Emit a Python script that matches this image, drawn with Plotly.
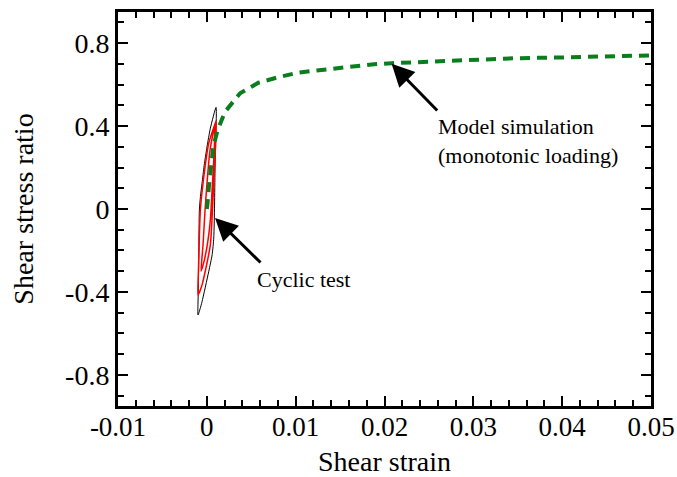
import plotly.graph_objects as go

# Model simulation (monotonic loading)
model_strain = [0.0, 0.00006, 0.00025, 0.00047, 0.00073, 0.00122, 0.00205, 0.00374, 0.0058, 0.0080,
                0.0102, 0.0122, 0.0143, 0.0165, 0.0188, 0.0208, 0.0233, 0.0290, 0.0346, 0.0402, 0.0459, 0.0500]
model_ratio = [0.0, 0.019, 0.116, 0.203, 0.300, 0.381, 0.469, 0.558, 0.609, 0.635,
               0.657, 0.667, 0.678, 0.690, 0.698, 0.703, 0.707, 0.718, 0.727, 0.731, 0.738, 0.741]

# Cyclic test - black loop
black_strain = [0.00104, 0.00040, 0.00002, -0.00030, -0.00054, -0.00072, -0.00084, -0.0009, -0.00094, -0.00096, -0.00099,
                -0.00075, -0.00054, 0.00021, 0.00060, 0.00078, 0.00087, 0.00092, 0.00100, 0.00104]
black_ratio = [0.490, 0.390, 0.300, 0.210, 0.124, 0.060, -0.005, -0.198, -0.300, -0.391, -0.511,
               -0.480, -0.447, -0.302, -0.220, -0.140, 0.019, 0.188, 0.333, 0.490]

# Cyclic test - red loops
red_strain = [0.00104, 0.00060, 0.00021, -0.00043, -0.00073, -0.00088, -0.00095, -0.00099,
              -0.00054, 0.00039, 0.00066, 0.00078, 0.00096, 0.00104,
              0.00092, 0.00036, 0.00002, -0.00020, -0.00043, -0.00065,
              -0.00030, 0.00010, 0.00040, 0.00059, 0.00081, 0.00092]
red_ratio = [0.424, 0.370, 0.317, 0.124, -0.005, -0.198, -0.310, -0.415,
             -0.366, -0.174, 0.019, 0.124, 0.284, 0.424,
             0.405, 0.284, 0.125, -0.005, -0.174, -0.300,
             -0.250, -0.160, -0.050, 0.092, 0.260, 0.405]

x_tickvals = [-0.01, 0, 0.01, 0.02, 0.03, 0.04, 0.05]
x_ticktext = ["-0.01", "0", "0.01", "0.02", "0.03", "0.04", "0.05"]
y_tickvals = [-0.8, -0.4, 0, 0.4, 0.8]
y_ticktext = ["-0.8", "-0.4", "0", "0.4", "0.8"]

FONT = "Liberation Serif"

fig = go.Figure()
fig.add_trace(go.Scatter(x=black_strain, y=black_ratio, mode="lines",
                         line=dict(color="black", width=1, shape="spline", smoothing=0.6), showlegend=False))
fig.add_trace(go.Scatter(x=red_strain, y=red_ratio, mode="lines",
                         line=dict(color="red", width=1.5, shape="spline", smoothing=0.6), showlegend=False))
fig.add_trace(go.Scatter(x=model_strain, y=model_ratio, mode="lines",
                         line=dict(color="#0a7d1c", width=4, dash="10px,7px"), showlegend=False))

axis_common = dict(
    showgrid=False, zeroline=False, showline=True, linecolor="black", linewidth=3,
    mirror="allticks", ticks="inside", ticklen=10, tickwidth=2, tickcolor="black",
    automargin=False,
)

fig.update_xaxes(range=[-0.0100001, 0.0500001], tickvals=x_tickvals, ticktext=x_ticktext,
                 tickfont=dict(family=FONT, size=27, color="black"), ticklabelstandoff=-5,
                 minor=dict(dtick=0.002, tick0=0, ticks="inside", ticklen=6, tickwidth=2, tickcolor="black"),
                 title=dict(text="Shear strain", font=dict(family=FONT, size=28, color="black"), standoff=12),
                 **axis_common)
fig.update_yaxes(range=[-0.95, 0.95], tickvals=y_tickvals, ticktext=y_ticktext,
                 tickfont=dict(family=FONT, size=28, color="black"),
                 minor=dict(dtick=0.1, tick0=0, ticks="inside", ticklen=6, tickwidth=2, tickcolor="black"),
                 title=dict(text="Shear stress ratio", font=dict(family=FONT, size=28, color="black"), standoff=24),
                 **axis_common)

annotations = [
    dict(x=0.0208, y=0.70, ax=0.0261, ay=0.468, xref="x", yref="y", axref="x", ayref="y",
         text="", showarrow=True, arrowhead=2, arrowsize=1.5, arrowwidth=3, arrowcolor="black", standoff=0),
    dict(x=0.00092, y=-0.043, ax=0.00621, ay=-0.265, xref="x", yref="y", axref="x", ayref="y",
         text="", showarrow=True, arrowhead=2, arrowsize=1.5, arrowwidth=3, arrowcolor="black", standoff=0),
    dict(x=0.0258, y=0.328, xref="x", yref="y", text="Model simulation<br>(monotonic loading)",
         showarrow=False, xanchor="left", yanchor="middle", align="left",
         font=dict(family=FONT, size=22, color="black")),
    dict(x=0.00543, y=-0.342, xref="x", yref="y", text="Cyclic test",
         showarrow=False, xanchor="left", yanchor="middle", align="left",
         font=dict(family=FONT, size=22, color="black")),
]

fig.update_layout(
    width=677, height=477,
    margin=dict(l=118, r=26, t=12, b=71),
    paper_bgcolor="white", plot_bgcolor="white",
    font=dict(family=FONT, color="black"),
    annotations=annotations,
)

fig.write_html("out.html")
